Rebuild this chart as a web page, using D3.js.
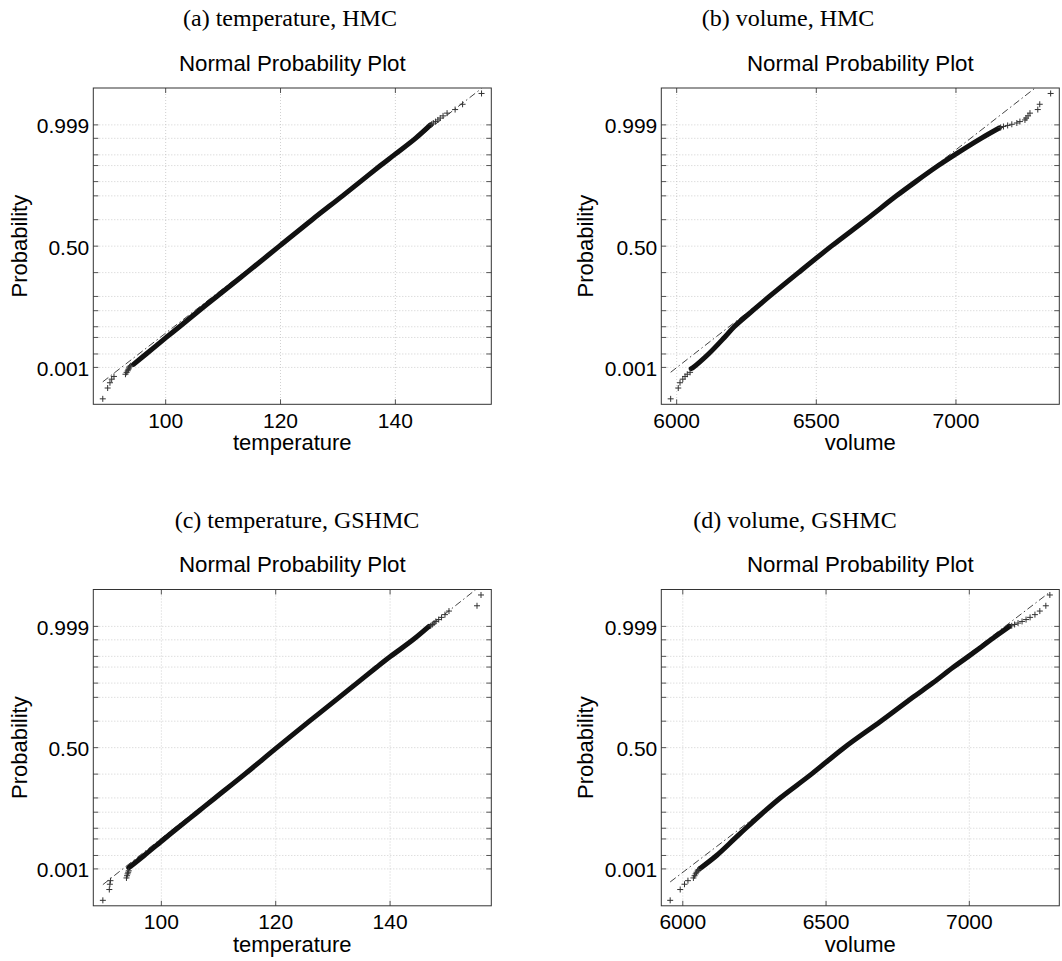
<!DOCTYPE html>
<html>
<head>
<meta charset="utf-8">
<script src="https://cdn.jsdelivr.net/npm/d3@7"></script>
<style>
  body { margin: 0; background: #fff; }
  svg { display: block; }
</style>
</head>
<body>
<div id="chart"></div>
<script>
const width = 1062, height = 961;

// plotting positions are (rank - 0.5) / n
const nSamples = 10000;

// probability grid of the normal probability paper
const probGrid = [0.001, 0.003, 0.01, 0.02, 0.05, 0.10, 0.25, 0.50, 0.75, 0.90, 0.95, 0.98, 0.99, 0.997, 0.999];
const probLabels = [[0.001, "0.001"], [0.50, "0.50"], [0.999, "0.999"]];

const captions = ["(a) temperature, HMC", "(b) volume, HMC", "(c) temperature, GSHMC", "(d) volume, GSHMC"];
const xLabels = ["temperature", "volume", "temperature", "volume"];

// x axis extents and ticks
const tempHmcXDomain = [87.4, 156.7];
const volHmcXDomain = [5945, 7370];
const tempGsXDomain = [88.1, 157.7];
const volGsXDomain = [5925, 7314];
const tempTicks = [100, 120, 140];
const volTicks = [6000, 6500, 7000];

// dense body of each sample: [value, probability]
const tempHmcBody = [[94.4, 0.0013], [96.6, 0.003], [100.1, 0.01], [102.4, 0.02], [105.8, 0.05], [108.9, 0.10],
  [114.1, 0.25], [119.8, 0.50], [125.5, 0.75], [130.8, 0.90], [133.9, 0.95], [137.4, 0.98], [139.8, 0.99],
  [143.5, 0.997], [146.1, 0.999]];
const volHmcBody = [[6052, 0.0009], [6059, 0.001], [6114, 0.003], [6171, 0.01], [6206, 0.02], [6272, 0.05],
  [6332, 0.10], [6436, 0.25], [6554, 0.50], [6678, 0.75], [6787, 0.90], [6856, 0.95], [6937, 0.98],
  [6995, 0.99], [7090, 0.997], [7155, 0.9987]];
const tempGsBody = [[94.3, 0.0011], [97.0, 0.003], [100.5, 0.01], [102.8, 0.02], [106.3, 0.05], [109.4, 0.10],
  [114.6, 0.25], [120.2, 0.50], [125.9, 0.75], [131.1, 0.90], [134.2, 0.95], [137.7, 0.98], [140.1, 0.99],
  [144.0, 0.997], [146.8, 0.999]];
const volGsBody = [[6058, 0.001], [6118, 0.003], [6180, 0.01], [6220, 0.02], [6282, 0.05], [6340, 0.10],
  [6449, 0.25], [6563, 0.50], [6691, 0.75], [6803, 0.90], [6872, 0.95], [6945, 0.98], [6997, 0.99],
  [7075, 0.997], [7140, 0.999]];

// sparse tail samples, lowest ranks upward and highest ranks downward
const tempHmcLow = [89.05, 89.9, 90.3, 90.6, 91.0, 93.0, 93.2, 93.4, 93.5, 93.6, 93.7, 93.9];
const tempHmcHigh = [155.0, 151.7, 150.4, 149.0, 148.3, 147.8, 147.4, 147.0, 146.6, 146.3];
const volHmcLow = [5978.5, 6005.7, 6012, 6022, 6030, 6038, 6048];
const volHmcHigh = [7339, 7300, 7293, 7265, 7258, 7251, 7247, 7229, 7218, 7200, 7185, 7170, 7160];
const tempGsLow = [89.77, 90.9, 91.0, 91.1, 93.9, 94.0, 94.1, 94.2, 94.3];
const tempGsHigh = [155.9, 155.2, 150.3, 149.6, 149.0, 148.5, 148.0, 147.7, 147.4, 147.1];
const volGsLow = [5956, 5991, 6006, 6018, 6037, 6041, 6045, 6048, 6052, 6055];
const volGsHigh = [7281, 7267, 7246, 7229, 7212, 7198, 7184, 7170, 7158, 7148];

// quartiles used for the reference line: [q25, q75]
const tempHmcQuartiles = [113.6, 125.5];
const volHmcQuartiles = [6436, 6679];
const tempGsQuartiles = [114.2, 125.9];
const volGsQuartiles = [6449, 6691];

const panels = [
  { left: 93.3, top: 88, xDomain: tempHmcXDomain, ticks: tempTicks, body: tempHmcBody, low: tempHmcLow, high: tempHmcHigh, quart: tempHmcQuartiles, capX: 290, yLabX: 27 },
  { left: 661.3, top: 88, xDomain: volHmcXDomain, ticks: volTicks, body: volHmcBody, low: volHmcLow, high: volHmcHigh, quart: volHmcQuartiles, capX: 788, yLabX: 593 },
  { left: 93.3, top: 589.5, xDomain: tempGsXDomain, ticks: tempTicks, body: tempGsBody, low: tempGsLow, high: tempGsHigh, quart: tempGsQuartiles, capX: 297, yLabX: 27 },
  { left: 661.3, top: 589.5, xDomain: volGsXDomain, ticks: volTicks, body: volGsBody, low: volGsLow, high: volGsHigh, quart: volGsQuartiles, capX: 795, yLabX: 593 }
];
const boxW = 398, boxH = 316.3;
const zLim = 4.03;

// inverse normal cdf (Acklam)
function probit(p) {
  const a = [-3.969683028665376e+01, 2.209460984245205e+02, -2.759285104469687e+02, 1.383577518672690e+02, -3.066479806614716e+01, 2.506628277459239e+00];
  const b = [-5.447609879822406e+01, 1.615858368580409e+02, -1.556989798598866e+02, 6.680131188771972e+01, -1.328068155288572e+01];
  const c = [-7.784894002430293e-03, -3.223964580411365e-01, -2.400758277161838e+00, -2.549732539343734e+00, 4.374664141464968e+00, 2.938163982698783e+00];
  const d = [7.784695709041462e-03, 3.224671290700398e-01, 2.445134137142996e+00, 3.754408661907416e+00];
  const pl = 0.02425;
  if (p < pl) {
    const q = Math.sqrt(-2 * Math.log(p));
    return (((((c[0]*q+c[1])*q+c[2])*q+c[3])*q+c[4])*q+c[5]) / ((((d[0]*q+d[1])*q+d[2])*q+d[3])*q+1);
  }
  if (p > 1 - pl) {
    const q = Math.sqrt(-2 * Math.log(1 - p));
    return -(((((c[0]*q+c[1])*q+c[2])*q+c[3])*q+c[4])*q+c[5]) / ((((d[0]*q+d[1])*q+d[2])*q+d[3])*q+1);
  }
  const q = p - 0.5, r = q * q;
  return (((((a[0]*r+a[1])*r+a[2])*r+a[3])*r+a[4])*r+a[5])*q / (((((b[0]*r+b[1])*r+b[2])*r+b[3])*r+b[4])*r+1);
}

const svg = d3.select("#chart").append("svg")
  .attr("width", width)
  .attr("height", height);

const sans = "'Liberation Sans', Arial, Helvetica, sans-serif";

panels.forEach((pn, i) => {
  const x = d3.scaleLinear().domain(pn.xDomain).range([pn.left, pn.left + boxW]);
  const z = d3.scaleLinear().domain([-zLim, zLim]).range([pn.top + boxH, pn.top]);
  const y = p => z(probit(p));
  const bottom = pn.top + boxH, right = pn.left + boxW;
  const g = svg.append("g");

  // caption and title
  g.append("text")
    .attr("x", pn.capX).attr("y", pn.top - 62)
    .attr("text-anchor", "middle")
    .style("font-family", "'Liberation Serif', 'DejaVu Serif', serif")
    .style("font-size", "24px")
    .text(captions[i]);
  g.append("text")
    .attr("x", pn.left + boxW / 2).attr("y", pn.top - 17.5)
    .attr("text-anchor", "middle")
    .style("font-family", sans).style("font-size", "22.3px")
    .text("Normal Probability Plot");

  // grid
  g.selectAll(".vgrid").data(pn.ticks).enter().append("line")
    .attr("x1", d => x(d)).attr("x2", d => x(d))
    .attr("y1", pn.top).attr("y2", bottom)
    .attr("stroke", "#c4c4c4").attr("stroke-width", 0.8).attr("stroke-dasharray", "1,2");
  g.selectAll(".hgrid").data(probGrid).enter().append("line")
    .attr("x1", pn.left).attr("x2", right)
    .attr("y1", d => y(d)).attr("y2", d => y(d))
    .attr("stroke", "#c4c4c4").attr("stroke-width", 0.8).attr("stroke-dasharray", "1,2");

  // ticks inside the box on all four sides
  const tk = 5;
  pn.ticks.forEach(t => {
    g.append("line").attr("x1", x(t)).attr("x2", x(t)).attr("y1", bottom).attr("y2", bottom - tk).attr("stroke", "#555");
    g.append("line").attr("x1", x(t)).attr("x2", x(t)).attr("y1", pn.top).attr("y2", pn.top + tk).attr("stroke", "#555");
  });
  probGrid.forEach(p => {
    g.append("line").attr("x1", pn.left).attr("x2", pn.left + tk).attr("y1", y(p)).attr("y2", y(p)).attr("stroke", "#555");
    g.append("line").attr("x1", right).attr("x2", right - tk).attr("y1", y(p)).attr("y2", y(p)).attr("stroke", "#555");
  });

  // tick labels
  g.selectAll(".xtl").data(pn.ticks).enter().append("text")
    .attr("x", d => x(d)).attr("y", bottom + 23.5)
    .attr("text-anchor", "middle")
    .style("font-family", sans).style("font-size", "21px")
    .text(d => d);
  g.selectAll(".ytl").data(probLabels).enter().append("text")
    .attr("x", pn.left - 4).attr("y", d => y(d[0]) + 8.5)
    .attr("text-anchor", "end")
    .style("font-family", sans).style("font-size", "21px")
    .text(d => d[1]);

  // axis labels
  g.append("text")
    .attr("x", pn.left + boxW / 2).attr("y", bottom + 46)
    .attr("text-anchor", "middle")
    .style("font-family", sans).style("font-size", "22px")
    .text(xLabels[i]);
  g.append("text")
    .attr("transform", `translate(${pn.yLabX},${z(0)}) rotate(-90)`)
    .attr("text-anchor", "middle")
    .style("font-family", sans).style("font-size", "22px")
    .text("Probability");

  // clip for the data area
  const clipId = "clip" + i;
  svg.append("clipPath").attr("id", clipId)
    .append("rect").attr("x", pn.left).attr("y", pn.top).attr("width", boxW).attr("height", boxH);
  const plot = g.append("g").attr("clip-path", `url(#${clipId})`);

  // reference line through the quartiles, over the data range
  const zq1 = probit(0.25), zq3 = probit(0.75);
  const lineZ = v => zq1 + (v - pn.quart[0]) * (zq3 - zq1) / (pn.quart[1] - pn.quart[0]);
  const vMin = pn.low[0], vMax = pn.high[0];
  plot.append("line")
    .attr("x1", x(vMin)).attr("y1", z(lineZ(vMin)))
    .attr("x2", x(vMax)).attr("y2", z(lineZ(vMax)))
    .attr("stroke", "#444").attr("stroke-width", 1)
    .attr("stroke-dasharray", "7,3,1.5,3");

  // dense body
  plot.append("path")
    .datum(pn.body)
    .attr("d", d3.line().x(d => x(d[0])).y(d => y(d[1])).curve(d3.curveCatmullRom.alpha(0.5)))
    .attr("fill", "none").attr("stroke", "#111").attr("stroke-width", 5)
    .attr("stroke-linecap", "round");

  // sparse tail markers
  const tails = pn.low.map((v, k) => [v, (k + 0.5) / nSamples])
    .concat(pn.high.map((v, k) => [v, 1 - (k + 0.5) / nSamples]));
  const ms = 3;
  plot.selectAll(".mk").data(tails).enter().append("path")
    .attr("d", d => {
      const cx = x(d[0]), cy = y(d[1]);
      return `M${cx - ms},${cy}H${cx + ms}M${cx},${cy - ms}V${cy + ms}`;
    })
    .attr("stroke", "#333").attr("stroke-width", 1).attr("fill", "none");

  // box
  g.append("rect")
    .attr("x", pn.left).attr("y", pn.top).attr("width", boxW).attr("height", boxH)
    .attr("fill", "none").attr("stroke", "#333").attr("stroke-width", 1);
});
</script>
</body>
</html>
